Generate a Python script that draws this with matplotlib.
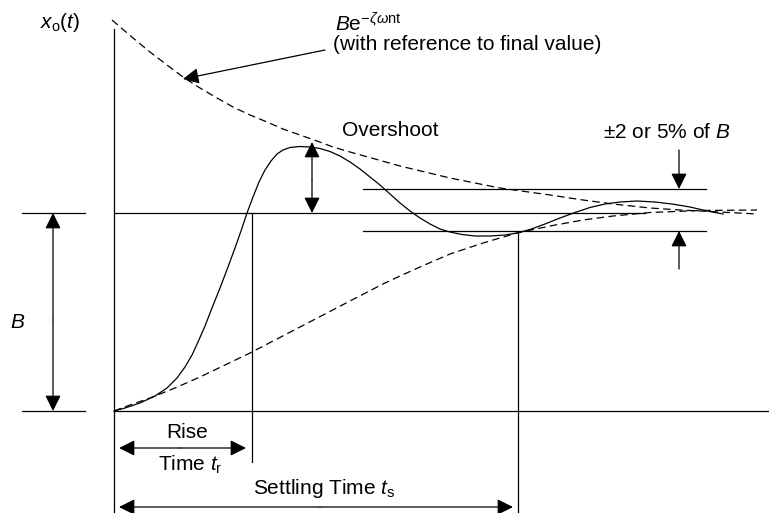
"""
Step response of a second-order system: rise time, overshoot, settling time.
Drawn in image-like units (x to the right, y downwards).
"""

import matplotlib
matplotlib.use("Agg")
from matplotlib import pyplot as plt

# response curve (solid)
resp_x = [114, 125, 140, 155, 167, 177, 185, 192, 198, 205, 212, 220, 228, 235, 241,
          247, 253, 259, 265, 271, 277, 283, 290, 300, 310, 320, 330, 340, 350, 360,
          370, 380, 390, 400, 410, 420, 430, 440, 450, 462, 475, 490, 505, 517, 530,
          545, 560, 575, 590, 605, 620, 637, 655, 672, 690, 705, 715, 723]
resp_y = [411, 408, 403, 396, 388, 378, 367, 355, 342, 326, 308, 288, 267, 248, 231,
          213, 197, 182, 170, 161, 154, 150, 147.5, 146.5, 147, 148.5, 151.5, 156, 162, 169,
          177, 185, 194, 203, 211, 218, 224, 229, 232, 234.5, 236, 236, 235, 233, 229.5,
          224, 218, 212.5, 207.5, 204, 202, 201, 202, 204, 207, 210.5, 212.5, 214]

# decaying envelope B e^{-zeta wn t} (dashed, upper)
env_hi_x = [112, 133, 150, 167, 183, 200, 217, 233, 250, 267, 283, 300, 317, 333, 350,
            375, 400, 450, 500, 550, 583, 613, 650, 680, 720, 757]
env_hi_y = [20, 38, 52, 65, 77, 88, 98, 107, 115, 122, 129, 135, 141, 147, 152,
            159, 166, 178, 188, 195, 200, 204, 208, 210, 212, 214]

# lower envelope (dashed)
env_lo_x = [114, 130, 150, 175, 200, 225, 250, 275, 300, 325, 350, 383, 400, 420, 450,
            483, 517, 550, 583, 613, 650, 700, 757]
env_lo_y = [411, 405, 398, 388, 377, 365, 353, 340, 327, 314, 301, 284, 276, 267, 254,
            243, 233, 226, 220, 216, 212.5, 210.5, 210]

# reference levels
origin_x = 114
baseline_y = 411
final_y = 213
band_hi_y = 189
band_lo_y = 231
t_rise = 252
t_settle = 518

plt.rcParams["font.family"] = ["Liberation Sans", "DejaVu Sans"]
plt.rcParams["mathtext.fontset"] = "custom"
plt.rcParams["mathtext.rm"] = "Liberation Sans"
plt.rcParams["mathtext.it"] = "Liberation Sans:italic"

fig = plt.figure(figsize=(7.69, 5.13), dpi=100)
ax = fig.add_axes([0, 0, 1, 1])
ax.set_xlim(0, 769)
ax.set_ylim(513, 0)
ax.axis("off")

lw = 0.9
k = "black"

# axes and reference lines
ax.plot([origin_x, origin_x], [29, 513], color=k, lw=lw)
ax.plot([origin_x, 769], [baseline_y, baseline_y], color=k, lw=lw)
ax.plot([origin_x, 645], [final_y, final_y], color=k, lw=lw)
ax.plot([22, 85], [baseline_y, baseline_y], color=k, lw=lw)
ax.plot([22, 85], [final_y, final_y], color=k, lw=lw)
ax.plot([363, 706], [band_hi_y, band_hi_y], color=k, lw=lw)
ax.plot([363, 706], [band_lo_y, band_lo_y], color=k, lw=lw)
ax.plot([t_rise, t_rise], [final_y, 462], color=k, lw=lw)
ax.plot([t_settle, t_settle], [band_lo_y, 513], color=k, lw=lw)

# curves
ax.plot(resp_x, resp_y, color=k, lw=lw)
ax.plot(env_hi_x, env_hi_y, color=k, lw=lw, dashes=(6, 3.5))
ax.plot(env_lo_x, env_lo_y, color=k, lw=lw, dashes=(6, 3.5))


def arrow(x0, y0, x1, y1, style="-|>"):
    ax.annotate("", xy=(x1, y1), xytext=(x0, y0),
                arrowprops=dict(arrowstyle=style, color=k, lw=lw,
                                mutation_scale=24, shrinkA=0, shrinkB=0))


arrow(53, 320, 53, final_y)
arrow(53, 320, 53, baseline_y)
arrow(312, 180, 312, 142)
arrow(312, 180, 312, final_y)
arrow(679, 150, 679, band_hi_y)
arrow(679, 269, 679, band_lo_y)
arrow(180, 448, 119, 448)
arrow(180, 448, 246, 448)
arrow(320, 507, 119, 507)
arrow(320, 507, 513, 507)
arrow(325, 50, 183, 79)

fs = 15
ax.text(40, 22, r"$x_{\mathrm{o}}(t)$", fontsize=fs, va="center", ha="left")
ax.text(335, 24, r"$B$e$^{-\zeta\omega\mathrm{nt}}$", fontsize=fs, va="center", ha="left")
ax.text(333, 45, "(with reference to final value)", fontsize=fs, va="center", ha="left")
ax.text(342, 131, "Overshoot", fontsize=fs, va="center", ha="left")
ax.text(603, 132, "±2 or 5% of $B$", fontsize=fs, va="center", ha="left")
ax.text(18, 323, "$B$", fontsize=fs, va="center", ha="center")
ax.text(187, 432, "Rise", fontsize=fs, va="center", ha="center")
ax.text(190, 465, r"Time $t_{\mathrm{r}}$", fontsize=fs, va="center", ha="center")
ax.text(324, 489, r"Settling Time $t_{\mathrm{s}}$", fontsize=fs, va="center", ha="center")

fig.savefig("out.png", dpi=100)
